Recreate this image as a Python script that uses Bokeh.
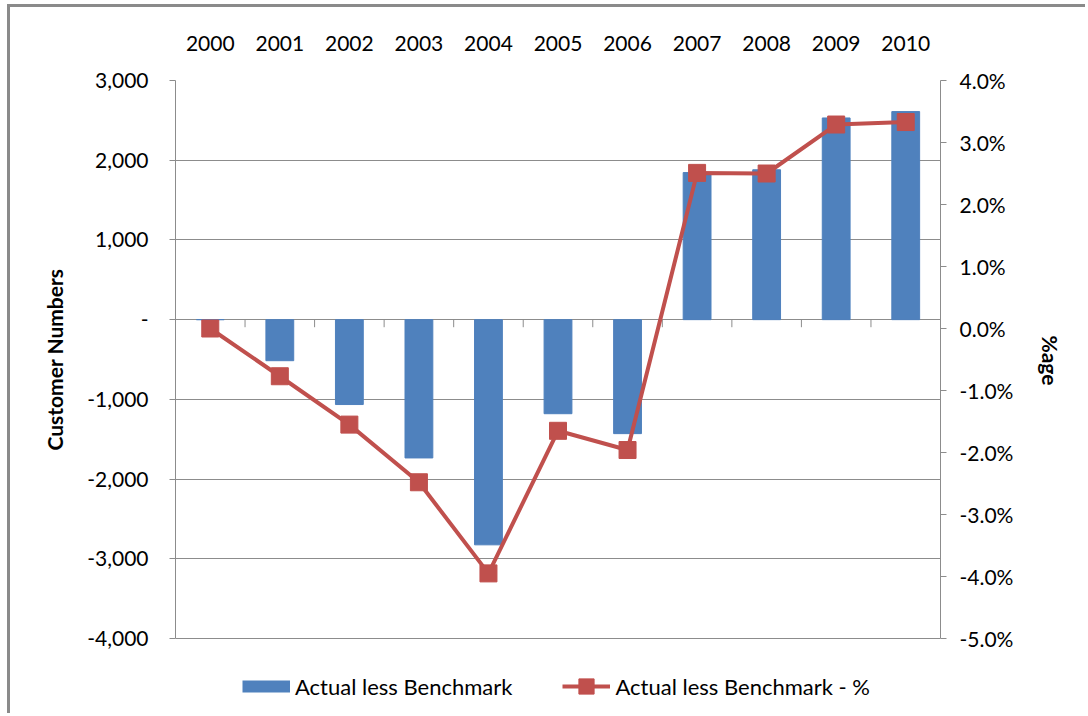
import math
from bokeh.plotting import figure
from bokeh.models import (Range1d, LinearAxis, FixedTicker, NumeralTickFormatter,
                          PrintfTickFormatter, Legend, LegendItem, Title)
from bokeh.embed import file_html
from bokeh.resources import INLINE

years = [2000, 2001, 2002, 2003, 2004, 2005, 2006, 2007, 2008, 2009, 2010]
actual_less_benchmark = [0, -515, -1065, -1735, -2825, -1180, -1430, 1845, 1880, 2530, 2610]
actual_less_benchmark_pct = [0.0, -0.77, -1.55, -2.48, -3.95, -1.65, -1.96, 2.51, 2.50, 3.29, 3.33]
left_ticks = [-4000, -3000, -2000, -1000, 0, 1000, 2000, 3000]
right_ticks = [-5, -4, -3, -2, -1, 0, 1, 2, 3, 4]

BLUE = "#4F81BD"
RED = "#C0504D"
GRID = "#8C8C8C"
FONT = "Lato"

# layout (pixels): the frame runs from the top of the value axes down to the
# bottom of the page, so that the key can sit inside it below the axes
AXIS_PX = 558          # height of the value axes
KEY_PX = 78            # room under the axes for the key
ext = KEY_PX / AXIS_PX

y_lo = left_ticks[0] - ext * (left_ticks[-1] - left_ticks[0])
r_lo = right_ticks[0] - ext * (right_ticks[-1] - right_ticks[0])

p = figure(width=1078, height=709, output_backend="svg", toolbar_location=None,
           x_range=Range1d(years[0] - 0.5, years[-1] + 0.5),
           y_range=Range1d(y_lo, left_ticks[-1]),
           x_axis_location="above", y_axis_location="left",
           min_border_left=165, min_border_right=148, min_border_top=73, min_border_bottom=0)
p.styles = {"margin-left": "7px", "margin-top": "4px",
            "border-left": "3px solid #8A8A8A", "border-top": "3px solid #8A8A8A"}
p.outline_line_color = None
p.background_fill_color = "white"
p.border_fill_color = "white"

p.extra_y_ranges = {"pct": Range1d(r_lo, right_ticks[-1])}

# grid
p.xgrid.grid_line_color = None
p.ygrid.ticker = FixedTicker(ticks=left_ticks)
p.ygrid.grid_line_color = GRID
p.ygrid.grid_line_width = 1

# top category axis
xa = p.xaxis[0]
xa.ticker = FixedTicker(ticks=years)
xa.axis_line_color = None
xa.major_tick_line_color = None
xa.minor_tick_line_color = None
xa.major_label_standoff = 24
xa.major_label_text_font = FONT
xa.major_label_text_font_size = "21px"
xa.major_label_text_color = "black"

# left axis
ya = p.yaxis[0]
ya.ticker = FixedTicker(ticks=left_ticks)
ya.bounds = (left_ticks[0], left_ticks[-1])
ya.formatter = NumeralTickFormatter(format="0,0")
ya.major_label_overrides = {0: "-"}
ya.axis_line_color = GRID
ya.major_tick_line_color = GRID
ya.major_tick_out = 6
ya.major_tick_in = 0
ya.minor_tick_line_color = None
ya.major_label_standoff = 21
ya.major_label_text_font = FONT
ya.major_label_text_font_size = "21px"
ya.major_label_text_color = "black"

# right axis
ra = LinearAxis(y_range_name="pct", ticker=FixedTicker(ticks=right_ticks),
                formatter=PrintfTickFormatter(format="%.1f%%"),
                bounds=(right_ticks[0], right_ticks[-1]))
ra.axis_line_color = GRID
ra.major_tick_line_color = GRID
ra.major_tick_out = 6
ra.major_tick_in = 0
ra.minor_tick_line_color = None
ra.major_label_standoff = 13
ra.major_label_text_font = FONT
ra.major_label_text_font_size = "21px"
ra.major_label_text_color = "black"
p.add_layout(ra, "right")

# axis titles, centred on the value axes (not on the key area below them)
left_title = Title(text="Customer Numbers", align="left", offset=266, standoff=36,
                   text_font=FONT, text_font_style="bold", text_font_size="21px",
                   text_color="black")
p.add_layout(left_title, "left")
right_title = Title(text="%age", align="left", offset=255, standoff=43,
                    text_font=FONT, text_font_style="bold", text_font_size="21px",
                    text_color="black")
p.add_layout(right_title, "right")

# bars
bars = p.vbar(x=years, top=actual_less_benchmark, bottom=0, width=0.4,
              fill_color=BLUE, line_color=BLUE)

# category tick marks on the zero line (between categories)
bounds = [y + 0.5 for y in years[:-1]]
p.segment(x0=bounds, x1=bounds, y0=[0] * len(bounds), y1=[-95] * len(bounds),
          line_color=GRID, line_width=1)

# line with markers
ln = p.line(x=years, y=actual_less_benchmark_pct, y_range_name="pct",
            line_color=RED, line_width=4)
mk = p.scatter(x=years, y=actual_less_benchmark_pct, y_range_name="pct",
               marker="square", size=17, fill_color=RED, line_color=RED)

# legend swatch for the bars (a thick band, like the reference key)
bar_key = p.line(x=[float("nan")], y=[float("nan")], line_color=BLUE, line_width=12)

legend = Legend(items=[LegendItem(label="Actual less Benchmark", renderers=[bar_key]),
                       LegendItem(label="Actual less Benchmark - %", renderers=[ln, mk])],
                location=(67, 11), orientation="horizontal", padding=0, margin=0,
                spacing=50, glyph_width=48, glyph_height=38, label_standoff=5,
                label_text_font=FONT, label_text_font_size="22px",
                label_text_color="black",
                border_line_color=None, background_fill_alpha=0)
p.add_layout(legend, "center")

open("out.html", "w").write(file_html(p, INLINE))
